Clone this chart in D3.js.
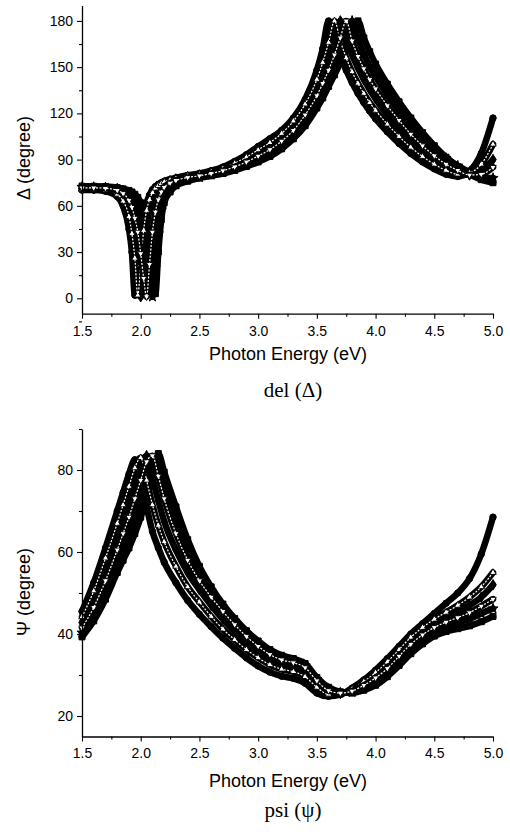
<!DOCTYPE html>
<html><head><meta charset="utf-8">
<script src="https://cdn.jsdelivr.net/npm/d3@7"></script>
<style>body{margin:0;background:#fff} svg{display:block}</style>
</head><body>
<script>
// ---------- DATA ----------
const energyDel = [1.5,1.6,1.7,1.8,1.85,1.9,1.925,1.95,1.975,2.0,2.025,2.05,2.075,2.1,2.125,2.15,2.175,2.2,2.25,2.3,2.4,2.5,2.6,2.7,2.8,2.9,3.0,3.1,3.2,3.3,3.4,3.5,3.55,3.6,3.65,3.7,3.75,3.8,3.85,3.9,3.95,4.0,4.1,4.2,4.3,4.4,4.5,4.6,4.7,4.8,4.9,5.0];
const del1 = [70.2,70.2,69.5,66,60,45,30,2,18,40,54,62,67,70.5,72.5,74,75,76,77.2,78.2,79.8,81,82.8,85.2,88.8,93.2,98.5,103.5,109,117,129,148,162,180,168,157,148,140,133,127,121.5,116.5,108,100.5,94,88.5,84,80.5,79,82.5,94,117];
const del2 = [70.7,70.7,70.2,67.5,63,53,42,26,2,22,44,57,64,68.5,71.5,73.2,74.5,75.5,76.8,77.8,79.3,80.5,82.2,84.3,87.6,91.6,96.3,101,107,115,126,142,153,166,180,167,156,147,139.5,133,127,122,113,105,98,92,87,83,80.5,81.5,87,100];
const del3 = [71.2,71.2,70.8,68.8,65.5,58,50,38,20,1,24,45,57,64,68.5,71.5,73.5,74.8,76.3,77.4,78.9,80,81.6,83.5,86.4,90,94.2,98.8,104.5,112,122.5,136.5,145.5,156,167,180,168,158,149.5,142,135.5,129.5,119,110,102,95,89.5,85,81.5,80,82.5,90];
const del4 = [71.7,71.7,71.4,70,68,63.5,59,52,43,29,13,1,22,43,56,64,69,72,74.8,76.5,78.4,79.5,81,82.8,85.3,88.5,92.3,96.5,102,109,119,131.5,139.5,148,158,169,180,167,157,149,142,136,125,115.5,106.5,99,92.5,87,83,80,80.5,85];
const del5 = [72.2,72.2,72,71.2,70,68,66,63,58.5,52,43,30,15,1,20,42,57,65,71,74,77,78.6,80.2,81.8,84,87,90.4,94.3,99.3,106,115.5,127.5,134.5,142,150.5,159.5,169,180,168,158.5,150.5,144,132,121.5,112,104,97,91,86,82,79,78];
const del6 = [72.7,72.7,72.5,71.8,71,70,69,67.5,65.5,62,56.5,48,36,20,3,30,51,62,69,73,76,78,79.5,81,83,85.5,88.5,92,97,103.5,112,123.5,130,137.5,145,153,161.5,170.5,180,169,160,152,139,127.5,117,107.5,99,91.5,85.5,80.5,77,75];

const energyPsi = [1.5,1.6,1.7,1.8,1.85,1.9,1.95,2.0,2.05,2.1,2.15,2.2,2.3,2.4,2.5,2.6,2.7,2.8,2.9,3.0,3.1,3.2,3.3,3.4,3.5,3.6,3.7,3.8,3.9,4.0,4.1,4.2,4.3,4.4,4.5,4.6,4.7,4.8,4.9,5.0];
const psi1 = [45.5,52.5,61,70,74.5,79,82.5,77,71,65,61,57.5,52.5,48.2,44.8,41.8,39,36.5,34.2,32.2,30.7,29.7,29.2,28,25.6,24.8,25.2,26.8,28.8,31.2,34,37,40,42.5,45,47.5,50,53.5,59.5,68.5];
const psi2 = [44.2,50.5,58.5,67,71.5,76,80.5,83,77.5,71.5,66.5,62.5,56.5,51.5,47.8,44.3,41.2,38.6,36.2,34.2,32.5,31.4,30.8,29.6,27,25.3,25.4,26.6,28.4,30.6,33.2,36.2,39.2,41.6,43.6,45.3,47,49,51.5,55];
const psi3 = [42.8,48.5,55.5,63.5,68,72.5,77,81.5,83.5,78,72.5,67.5,60.5,55,50.8,47,43.6,40.6,38,35.8,34,32.8,32.2,31,28,25.8,25.5,26.4,28,30,32.5,35.5,38.4,40.8,42.6,44,45.4,47,49,52];
const psi4 = [41.5,46.5,53,60.5,64.5,68.5,73,77.5,82,83.5,78.5,73,64.5,58,53,49,45.5,42.3,39.4,37,35,33.7,33,31.8,28.6,26.2,25.6,26.1,27.5,29.3,31.6,34.6,37.5,39.8,41.6,42.9,44,45.2,46.8,48.5];
const psi5 = [40.3,45,50.5,57.5,61,64.5,68.5,73,77.5,82.5,82,77,68,61,55,50.5,46.6,43.2,40.2,37.8,35.6,34.2,33.5,32.3,29,26.6,25.7,25.8,27,28.6,30.8,33.6,36.4,38.8,40.6,41.8,42.7,43.7,45,46.2];
const psi6 = [39.3,43.2,48.5,55,58,61,64.5,68.5,73.5,79.5,84,79.5,71,63,56.5,51.5,47.3,43.8,40.8,38.3,36.2,34.8,34,32.8,29.4,27,25.9,25.6,26.3,27.5,29.6,32.3,35.2,37.6,39.5,40.6,41.3,42,43,44.3];

const energyTicks = [1.5,2.0,2.5,3.0,3.5,4.0,4.5,5.0];
const energyMinor = [1.75,2.25,2.75,3.25,3.75,4.25,4.75];
const delTicks = [0,30,60,90,120,150,180];
const delMinor = [-15,15,45,75,105,135,165];
const psiTicks = [20,40,60,80];
const psiMinor = [30,50,70,90];

const xTitle = "Photon Energy (eV)";
const delTitle = "\u0394 (degree)";
const psiTitle = "\u03A8 (degree)";
const delCaption = "del (\u0394)";
const psiCaption = "psi (\u03C8)";

// ---------- STYLE ----------
const W = 510, H = 834;
const sansFont = "'Liberation Sans', Arial, sans-serif";
const serifFont = "'Liberation Serif', 'Times New Roman', serif";
const markerStyle = [
  {sym: d3.symbolCircle, hollow: false, rot: 0},
  {sym: d3.symbolTriangle, hollow: true, rot: 0},
  {sym: d3.symbolDiamond, hollow: false, rot: 0},
  {sym: d3.symbolTriangle, hollow: true, rot: 180},
  {sym: d3.symbolStar, hollow: false, rot: 0},
  {sym: d3.symbolSquare, hollow: false, rot: 0}
];
const drawOrder = [0, 2, 4, 5, 1, 3];

const svg = d3.select("body").append("svg").attr("width", W).attr("height", H);

function panel(opts) {
  const x = d3.scaleLinear().domain([1.5, 5.0]).range([82, 493]);
  const y = d3.scaleLinear().domain(opts.domain).range(opts.range);
  const g = svg.append("g");

  const line = d3.line().x((d, i) => x(opts.energy[i])).y(d => y(d)).curve(d3.curveMonotoneX);

  drawOrder.forEach(si => {
    const vals = opts.series[si];
    const st = markerStyle[si];
    g.append("path").attr("d", line(vals)).attr("fill", "none")
      .attr("stroke", "#000").attr("stroke-width", 6.5).attr("stroke-linejoin", "round").attr("stroke-linecap", "round");
    const sym = d3.symbol().type(st.sym).size(st.hollow ? 18 : (st.sym === d3.symbolSquare ? 36 : 32));
    g.append("g").selectAll("path").data(vals).join("path")
      .attr("d", sym)
      .attr("transform", (d, i) => `translate(${x(opts.energy[i])},${y(d)}) rotate(${st.rot})`)
      .attr("fill", st.hollow ? "#fff" : "#000")
      .attr("stroke", "#000").attr("stroke-width", 1);
    if (st.hollow) {
      g.append("path").attr("d", line(vals)).attr("fill", "none")
        .attr("stroke", "#fff").attr("stroke-width", 1.2).attr("stroke-dasharray", "2,1.5");
    }
  });

  // axes
  g.append("g").attr("transform", "translate(82,0)")
    .call(d3.axisLeft(y).tickValues(opts.ticks).tickSize(5).tickSizeOuter(0).tickPadding(4));
  g.append("g").attr("transform", "translate(82,0)")
    .call(d3.axisLeft(y).tickValues(opts.minor).tickSize(3).tickFormat(""))
    .call(a => a.select(".domain").remove());
  const y0 = opts.range[0];
  g.append("g").attr("transform", `translate(0,${y0})`)
    .call(d3.axisBottom(x).tickValues(energyTicks).tickFormat(d3.format(".1f")).tickSize(5).tickSizeOuter(0).tickPadding(7));
  g.append("g").attr("transform", `translate(0,${y0})`)
    .call(d3.axisBottom(x).tickValues(energyMinor).tickSize(3).tickFormat(""))
    .call(a => a.select(".domain").remove());
  g.selectAll(".domain").attr("stroke", "#000").attr("stroke-width", 1.3);
  g.selectAll(".tick line").attr("stroke", "#000").attr("stroke-width", 1.1);
  g.selectAll(".tick text").attr("font-family", sansFont).attr("font-size", 14).attr("fill", "#000");

  g.append("text").attr("transform", `translate(25,${opts.yTitleY}) rotate(-90)`)
    .attr("text-anchor", "middle").attr("dominant-baseline", "middle")
    .attr("font-family", sansFont).attr("font-size", 18).text(opts.yTitle);
  g.append("text").attr("x", 288).attr("y", opts.xTitleY)
    .attr("text-anchor", "middle").attr("dominant-baseline", "middle")
    .attr("font-family", sansFont).attr("font-size", 18).text(xTitle);
  g.append("text").attr("x", 293).attr("y", opts.captionY)
    .attr("text-anchor", "middle").attr("dominant-baseline", "middle")
    .attr("font-family", serifFont).attr("font-size", 21).text(opts.caption);
}

panel({
  energy: energyDel, series: [del1, del2, del3, del4, del5, del6],
  domain: [-10, 190], range: [313.7, 5.5],
  ticks: delTicks, minor: delMinor,
  yTitle: delTitle, yTitleY: 158, xTitleY: 355, caption: delCaption, captionY: 392
});
panel({
  energy: energyPsi, series: [psi1, psi2, psi3, psi4, psi5, psi6],
  domain: [15, 90], range: [736.5, 429],
  ticks: psiTicks, minor: psiMinor,
  yTitle: psiTitle, yTitleY: 592, xTitleY: 782, caption: psiCaption, captionY: 812
});
</script>
</body></html>
